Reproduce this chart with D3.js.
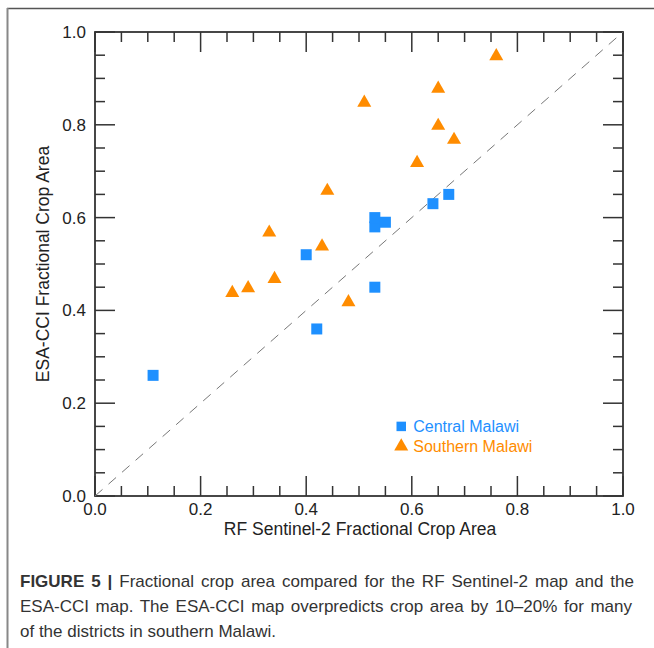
<!DOCTYPE html>
<html>
<head>
<meta charset="utf-8">
<script src="https://cdn.jsdelivr.net/npm/d3@7"></script>
<style>
  body { margin: 0; background: #fff; }
  svg text { font-family: "Liberation Sans", Arial, sans-serif; }
</style>
</head>
<body>
<svg id="viz" width="654" height="648"></svg>
<script>
// Data
const centralX  = [0.11, 0.40, 0.42, 0.53, 0.53, 0.53, 0.55, 0.64, 0.67];
const centralY  = [0.26, 0.52, 0.36, 0.45, 0.58, 0.60, 0.59, 0.63, 0.65];
const southernX = [0.26, 0.29, 0.33, 0.34, 0.43, 0.44, 0.48, 0.51, 0.61, 0.65, 0.65, 0.68, 0.76];
const southernY = [0.44, 0.45, 0.57, 0.47, 0.54, 0.66, 0.42, 0.85, 0.72, 0.80, 0.88, 0.77, 0.95];
const majorTicks = [0, 0.2, 0.4, 0.6, 0.8, 1.0];
const seriesNames = ['Central Malawi', 'Southern Malawi'];
const captionLines = [
  ['FIGURE 5 |', ' Fractional crop area compared for the RF Sentinel-2 map and the'],
  ['', 'ESA-CCI map. The ESA-CCI map overpredicts crop area by 10\u201320% for many'],
  ['', 'of the districts in southern Malawi.']
];
const captionJustify = [614, 612, null]; // justified lines get stretched to this width

const blue = '#1e90ff';
const orange = '#ff8c00';

const svg = d3.select('#viz');

// outer frame (top and left edges only)
svg.append('line').attr('x1', 7).attr('x2', 654).attr('y1', 8.5).attr('y2', 8.5)
   .attr('stroke', '#555').attr('stroke-width', 1.5);
svg.append('line').attr('x1', 7.5).attr('x2', 7.5).attr('y1', 8).attr('y2', 648)
   .attr('stroke', '#888').attr('stroke-width', 2);

const margin = { left: 95, top: 32, right: 31, bottom: 152 };
const width  = 654 - margin.left - margin.right;
const height = 648 - margin.top - margin.bottom;
const g = svg.append('g').attr('transform', `translate(${margin.left},${margin.top})`);

const x = d3.scaleLinear().domain([0, 1]).range([0, width]);
const y = d3.scaleLinear().domain([0, 1]).range([height, 0]);
const minorTicks = d3.range(0, 21).map(i => i / 20);

// inward ticks on all four sides, long at 0.2 steps
const isMajor = v => Math.abs(v * 5 - Math.round(v * 5)) < 1e-6;
['bottom', 'top', 'left', 'right'].forEach(side => {
  minorTicks.forEach(v => {
    const len = isMajor(v) ? 20 : 10;
    const line = g.append('line').attr('stroke', '#333').attr('stroke-width', 1.5);
    if (side === 'bottom') line.attr('x1', x(v)).attr('x2', x(v)).attr('y1', height).attr('y2', height - len);
    if (side === 'top') line.attr('x1', x(v)).attr('x2', x(v)).attr('y1', 0).attr('y2', len);
    if (side === 'left') line.attr('x1', 0).attr('x2', len).attr('y1', y(v)).attr('y2', y(v));
    if (side === 'right') line.attr('x1', width).attr('x2', width - len).attr('y1', y(v)).attr('y2', y(v));
  });
});
g.append('rect').attr('width', width).attr('height', height)
 .attr('fill', 'none').attr('stroke', '#333').attr('stroke-width', 1.8);

// tick labels
g.selectAll('.xlab').data(majorTicks).join('text')
 .attr('x', d => x(d)).attr('y', height + 19)
 .attr('text-anchor', 'middle').attr('font-size', 17).attr('fill', '#222')
 .text(d => d.toFixed(1));
g.selectAll('.ylab').data(majorTicks).join('text')
 .attr('x', -9).attr('y', d => y(d) + 6)
 .attr('text-anchor', 'end').attr('font-size', 17).attr('fill', '#222')
 .text(d => d.toFixed(1));

// axis titles
g.append('text').attr('x', width / 2 + 1).attr('y', height + 39)
 .attr('text-anchor', 'middle').attr('font-size', 17.5).attr('fill', '#222')
 .text('RF Sentinel-2 Fractional Crop Area');
g.append('text').attr('transform', `translate(-46,${height / 2}) rotate(-90)`)
 .attr('text-anchor', 'middle').attr('font-size', 17.5).attr('fill', '#222')
 .text('ESA-CCI Fractional Crop Area');

// 1:1 line
g.append('line').attr('x1', x(0)).attr('y1', y(0)).attr('x2', x(1)).attr('y2', y(1))
 .attr('stroke', '#777').attr('stroke-width', 1).attr('stroke-dasharray', '10,8');

// points
const square = d3.symbol().type(d3.symbolSquare).size(121);
const tri = d3.symbol().type(d3.symbolTriangle).size(85);
g.selectAll('.c').data(centralX.map((v, i) => [v, centralY[i]])).join('path')
 .attr('d', square).attr('fill', blue)
 .attr('transform', d => `translate(${x(d[0])},${y(d[1])})`);
g.selectAll('.s').data(southernX.map((v, i) => [v, southernY[i]])).join('path')
 .attr('d', tri).attr('fill', orange)
 .attr('transform', d => `translate(${x(d[0])},${y(d[1]) + 1})`);

// legend
const legend = g.append('g').attr('transform', `translate(${x(0.58)},${y(0.15)})`);
legend.append('path').attr('d', d3.symbol().type(d3.symbolSquare).size(90)).attr('fill', blue);
legend.append('text').attr('x', 12).attr('y', 6).attr('font-size', 16).attr('fill', blue).text(seriesNames[0]);
legend.append('path').attr('d', tri).attr('fill', orange).attr('transform', 'translate(0,20)');
legend.append('text').attr('x', 12).attr('y', 26).attr('font-size', 16).attr('fill', orange).text(seriesNames[1]);

// caption, first two lines justified by word spacing
captionLines.forEach((parts, i) => {
  const t = svg.append('text').attr('x', 20).attr('y', 587 + i * 25)
    .attr('font-size', 17).attr('fill', '#333');
  if (parts[0]) t.append('tspan').attr('font-weight', 'bold').text(parts[0]);
  t.append('tspan').text(parts[1]);
  const target = captionJustify[i];
  if (target) {
    const natural = t.node().getComputedTextLength();
    const spaces = (parts[0] + parts[1]).split(' ').length - 1;
    t.attr('word-spacing', Math.max(0, (target - natural) / spaces));
  }
});
</script>
</body>
</html>
